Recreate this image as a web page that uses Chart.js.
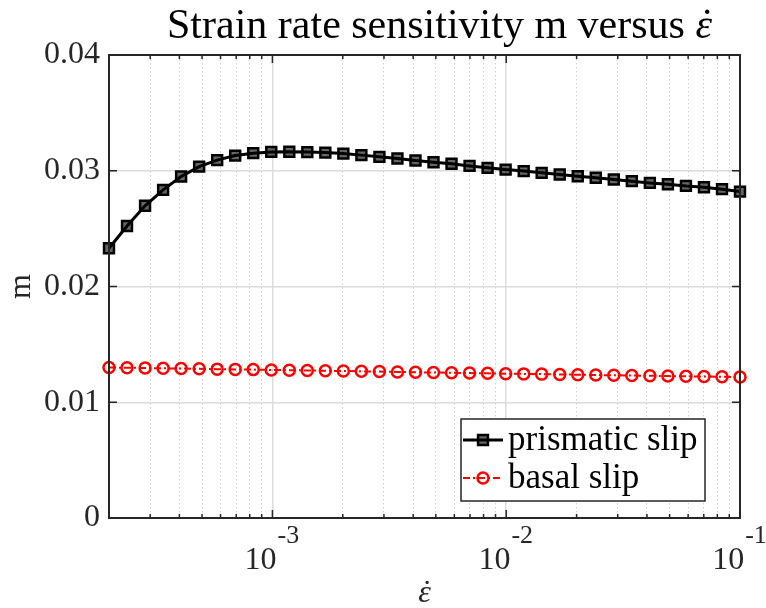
<!DOCTYPE html>
<html>
<head>
<meta charset="utf-8">
<script src="https://cdn.jsdelivr.net/npm/chart.js@4.4.1/dist/chart.umd.min.js"></script>
<style>
  body { margin: 0; background: #fff; }
  #wrap { width: 766px; height: 608px; }
</style>
</head>
<body>
<div id="wrap"><canvas id="chart-m" width="766" height="608"></canvas></div>
<script>
// strain rate (1/s), log spaced
const strainRates = [
  2.000e-4, 2.388e-4, 2.853e-4, 3.408e-4, 4.069e-4, 4.860e-4, 5.804e-4, 6.932e-4, 8.279e-4, 9.887e-4,
  1.181e-3, 1.410e-3, 1.684e-3, 2.011e-3, 2.402e-3, 2.869e-3, 3.426e-3, 4.092e-3, 4.887e-3, 5.836e-3,
  6.970e-3, 8.325e-3, 9.943e-3, 1.188e-2, 1.418e-2, 1.694e-2, 2.023e-2, 2.416e-2, 2.885e-2, 3.446e-2,
  4.116e-2, 4.916e-2, 5.872e-2, 7.013e-2, 8.375e-2, 1.000e-1
];
const prismaticM = [
  0.02330, 0.02523, 0.02697, 0.02835, 0.02950, 0.03036, 0.03092, 0.03131, 0.03152, 0.03163,
  0.03164, 0.03161, 0.03157, 0.03148, 0.03135, 0.03120, 0.03106, 0.03088, 0.03074, 0.03060,
  0.03042, 0.03025, 0.03010, 0.02997, 0.02982, 0.02967, 0.02953, 0.02939, 0.02924, 0.02910,
  0.02895, 0.02884, 0.02869, 0.02858, 0.02841, 0.02820
];
const basalM = [
  0.01300, 0.01298, 0.01296, 0.01293, 0.01291, 0.01289, 0.01286, 0.01284, 0.01282, 0.01279,
  0.01277, 0.01275, 0.01272, 0.01270, 0.01267, 0.01265, 0.01262, 0.01259, 0.01257, 0.01255,
  0.01252, 0.01250, 0.01247, 0.01245, 0.01243, 0.01240, 0.01238, 0.01235, 0.01233, 0.01231,
  0.01229, 0.01226, 0.01224, 0.01222, 0.01220, 0.01218
];
const seriesNames = ['prismatic slip', 'basal slip'];
const yTicks = [0, 0.01, 0.02, 0.03, 0.04];
const xDecadeExponents = [-3, -2, -1];
const titleText = 'Strain rate sensitivity m versus ';
const epsChar = 'ε';
const dotAccent = '˙';

const SERIF = '"Liberation Serif", "Times New Roman", serif';
const AXIS_COLOR = '#262626';

function isDecade(v) {
  const l = Math.log10(v);
  return Math.abs(l - Math.round(l)) < 1e-6;
}

// ticks at 1..9 x 10^n inside [min, max]
function logTicks(min, max) {
  const out = [];
  for (let e = Math.floor(Math.log10(min)); e <= Math.ceil(Math.log10(max)); e++) {
    for (let s = 1; s <= 9; s++) {
      const v = s * Math.pow(10, e);
      if (v >= min * 0.999 && v <= max * 1.001) out.push({ value: v, major: s === 1 });
    }
  }
  return out;
}

// italic epsilon with a dot above, left edge at x
function drawEpsDot(ctx, x, y, size) {
  ctx.font = `italic ${size}px ${SERIF}`;
  const w = ctx.measureText(epsChar).width;
  ctx.textAlign = 'left';
  ctx.fillText(epsChar, x, y);
  ctx.textAlign = 'center';
  ctx.fillText(dotAccent, x + w * 0.55, y);
  ctx.textAlign = 'left';
  return w;
}

const matlabAxes = {
  id: 'matlabAxes',
  afterDraw(chart) {
    const ctx = chart.ctx;
    const area = chart.chartArea;
    const xs = chart.scales.x;
    const ys = chart.scales.y;
    ctx.save();

    // inward tick marks
    ctx.strokeStyle = AXIS_COLOR;
    ctx.lineWidth = 1.5;
    ctx.beginPath();
    xs.ticks.forEach(t => {
      const px = xs.getPixelForValue(t.value);
      const len = isDecade(t.value) ? 8 : 4;
      ctx.moveTo(px, area.bottom); ctx.lineTo(px, area.bottom - len);
      ctx.moveTo(px, area.top); ctx.lineTo(px, area.top + len);
    });
    ys.ticks.forEach(t => {
      const py = ys.getPixelForValue(t.value);
      ctx.moveTo(area.left, py); ctx.lineTo(area.left + 8, py);
      ctx.moveTo(area.right, py); ctx.lineTo(area.right - 8, py);
    });
    ctx.stroke();

    // box
    ctx.lineWidth = 2;
    ctx.strokeRect(area.left, area.top, area.right - area.left, area.bottom - area.top);

    // x tick labels 10^n
    ctx.fillStyle = AXIS_COLOR;
    ctx.textBaseline = 'alphabetic';
    ctx.textAlign = 'left';
    xDecadeExponents.forEach(e => {
      const px = xs.getPixelForValue(Math.pow(10, e));
      const exp = '-' + Math.abs(e);
      ctx.font = `32px ${SERIF}`;
      const wBase = ctx.measureText('10').width;
      ctx.font = `26px ${SERIF}`;
      const wExp = ctx.measureText(exp).width;
      const x0 = px - 1 - (wBase + wExp) / 2;
      ctx.font = `32px ${SERIF}`;
      ctx.fillText('10', x0, area.bottom + 51);
      ctx.font = `26px ${SERIF}`;
      ctx.fillText(exp, x0 + wBase + 1, area.bottom + 25);
    });

    // x axis label
    ctx.font = `italic 32px ${SERIF}`;
    const wx = ctx.measureText(epsChar).width;
    drawEpsDot(ctx, (area.left + area.right) / 2 - wx / 2, area.bottom + 84, 32);

    // title
    ctx.fillStyle = '#000';
    ctx.font = `42px ${SERIF}`;
    const w1 = ctx.measureText(titleText).width;
    ctx.font = `italic 42px ${SERIF}`;
    const w2 = ctx.measureText(epsChar).width;
    const cx = (area.left + area.right) / 2 + 15;
    const tx = cx - (w1 + w2) / 2;
    ctx.font = `42px ${SERIF}`;
    ctx.fillText(titleText, tx, 38);
    drawEpsDot(ctx, tx + w1, 38, 42);

    // legend
    const box = { w: 244, h: 82 };
    box.x = area.right - 35 - box.w;
    box.y = area.bottom - 17 - box.h;
    ctx.fillStyle = '#fff';
    ctx.fillRect(box.x, box.y, box.w, box.h);
    ctx.strokeStyle = '#262626';
    ctx.lineWidth = 1.5;
    ctx.strokeRect(box.x, box.y, box.w, box.h);
    chart.data.datasets.forEach((ds, i) => {
      const ry = box.y + 21 + i * 38;
      ctx.strokeStyle = ds.borderColor;
      ctx.lineWidth = ds.borderWidth;
      ctx.setLineDash(ds.borderDash || []);
      ctx.beginPath();
      ctx.moveTo(box.x + 2, ry); ctx.lineTo(box.x + 42, ry);
      ctx.stroke();
      ctx.setLineDash([]);
      ctx.fillStyle = ds.pointBackgroundColor;
      ctx.strokeStyle = ds.pointBorderColor;
      ctx.lineWidth = ds.pointBorderWidth;
      Chart.helpers.drawPoint(ctx, {
        pointStyle: ds.pointStyle, radius: ds.pointRadius, rotation: 0, borderWidth: ds.pointBorderWidth
      }, box.x + 22, ry);
      ctx.fillStyle = '#000';
      ctx.font = `35px ${SERIF}`;
      ctx.textBaseline = 'middle';
      ctx.fillText(ds.label, box.x + 47, ry + 1);
    });
    ctx.restore();
  }
};

const ctx = document.getElementById('chart-m').getContext('2d');
const chart = new Chart(ctx, {
  type: 'line',
  data: {
    datasets: [
      {
        label: seriesNames[0],
        data: strainRates.map((x, i) => ({ x: x, y: prismaticM[i] })),
        borderColor: '#000',
        borderWidth: 3,
        pointStyle: 'rect',
        pointRadius: 7,
        pointBorderWidth: 2.5,
        pointBorderColor: '#000',
        pointBackgroundColor: 'rgba(0,0,0,0.6)',
        clip: 10
      },
      {
        label: seriesNames[1],
        data: strainRates.map((x, i) => ({ x: x, y: basalM[i] })),
        borderColor: '#ff0000',
        borderWidth: 2,
        borderDash: [7, 3, 2, 3],
        pointStyle: 'circle',
        pointRadius: 5.5,
        pointBorderWidth: 2.5,
        pointBorderColor: '#ff0000',
        pointBackgroundColor: 'rgba(255,255,255,0)',
        clip: 10
      }
    ]
  },
  options: {
    responsive: false,
    animation: false,
    layout: { padding: { top: 55, right: 26, left: 0, bottom: 0 } },
    plugins: {
      legend: { display: false },
      title: { display: false },
      tooltip: { enabled: false }
    },
    scales: {
      x: {
        type: 'logarithmic',
        min: 2e-4,
        max: 0.1,
        afterBuildTicks: s => { s.ticks = logTicks(s.min, s.max); },
        afterFit: s => { s.height = 90; },
        ticks: { display: false },
        grid: {
          drawTicks: false,
          color: c => (c.tick && isDecade(c.tick.value)) ? '#dcdcdc' : '#cfcfcf',
          lineWidth: c => (c.tick && isDecade(c.tick.value)) ? 1.5 : 1
        },
        border: {
          display: false,
          dash: c => (c.tick && isDecade(c.tick.value)) ? [] : [1.5, 2.5]
        }
      },
      y: {
        min: 0,
        max: 0.04,
        afterBuildTicks: s => { s.ticks = yTicks.map(v => ({ value: v })); },
        afterFit: s => { s.width = 109; },
        ticks: {
          color: AXIS_COLOR,
          padding: 9,
          font: { family: SERIF, size: 32 },
          callback: v => v === 0 ? '0' : v.toFixed(2)
        },
        grid: {
          drawTicks: false,
          color: '#dcdcdc',
          lineWidth: 1.5
        },
        border: { display: false },
        title: {
          display: true,
          text: 'm',
          color: AXIS_COLOR,
          font: { family: SERIF, size: 32, lineHeight: 1 },
          padding: { top: 6, bottom: 0 }
        }
      }
    }
  },
  plugins: [matlabAxes]
});
</script>
</body>
</html>
